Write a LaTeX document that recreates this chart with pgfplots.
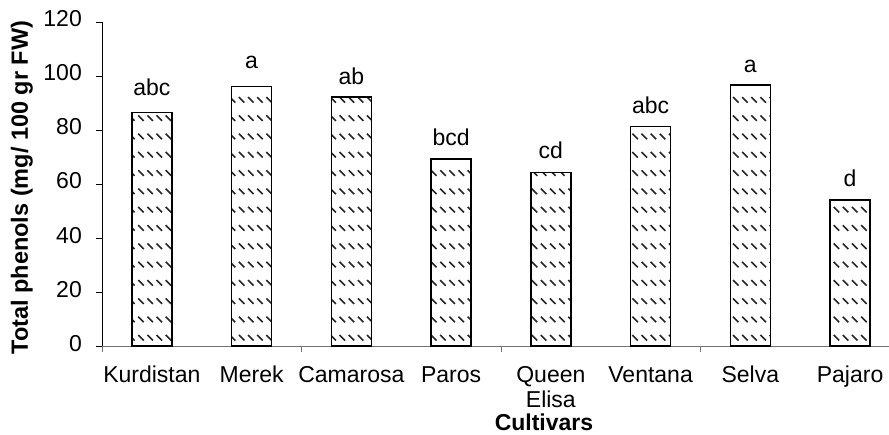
\documentclass[border=0pt]{standalone}
\usepackage{pgfplots}
\pgfplotsset{compat=1.18}
\usepackage{fontspec}
\setmainfont{Liberation Sans}
\usetikzlibrary{patterns}
\pgfdeclarepatternformonly{dashdiag}{\pgfqpoint{-1pt}{-1pt}}{\pgfqpoint{10pt}{19pt}}{\pgfqpoint{9.15pt}{18.3pt}}{%
  \pgfsetlinewidth{1.6pt}%
  \pgfpathmoveto{\pgfqpoint{1pt}{7.5pt}}%
  \pgfpathlineto{\pgfqpoint{6.5pt}{2pt}}%
  \pgfusepath{stroke}%
}
\begin{document}
\begin{tikzpicture}
\begin{axis}[
  at={(0pt,0pt)}, anchor=south west,
  scale only axis,
  width=787pt, height=324pt,
  xmin=-0.5, xmax=7.39,
  ymin=0, ymax=120,
  axis x line*=bottom, axis y line*=left,
  x axis line style={draw=black!55, line width=0.9pt, -},
  y axis line style={draw=black, line width=0.9pt, -},
  tick align=outside,
  ytick={0,20,...,120},
  major tick length=6pt,
  y tick style={draw=black, line width=0.9pt},
  xtick={0,...,7},
  x tick style={draw=none},
  minor xtick={-0.5,1.5,3.5,5.5},
  minor tick length=6pt,
  minor x tick style={draw=black!55, line width=0.9pt},
  xticklabels={Kurdistan,Merek,Camarosa,Paros,{Queen\\Elisa},Ventana,Selva,Pajaro},
  typeset ticklabels with strut,
  font=\fontsize{23}{25}\selectfont,
  /pgf/number format/assume math mode=true,
  xticklabel style={align=center, anchor=north, inner sep=0pt, yshift=-13pt, font=\fontsize{23}{25}\selectfont},
  yticklabel style={anchor=east, inner sep=0pt, xshift=-14pt, font=\fontsize{23}{25}\selectfont},
  xlabel={\bfseries Cultivars},
  xlabel style={at={(axis description cs:0.5616,-0.262)}, anchor=base, inner sep=0pt, font=\fontsize{23}{25}\selectfont},
  ylabel={\bfseries Total phenols (mg/ 100 gr FW)},
  ylabel style={at={(axis description cs:-0.1017,0.489)}, anchor=center, inner sep=0pt, font=\fontsize{23.5}{25}\selectfont},
  clip=false,
]
\addplot[ybar, bar width=0.4, draw=black, line width=1.4pt, pattern=dashdiag, pattern color=black!85]
  coordinates {(0,86.4) (1,96.0) (2,92.2) (3,69.3) (4,64.3) (5,81.3) (6,96.7) (7,54.1)};
\addplot[only marks, mark=none, point meta=explicit symbolic,
  nodes near coords, nodes near coords style={anchor=base, inner sep=0pt, font=\fontsize{23}{25}\selectfont}]
  table[meta=label] {
x y label
0 92.6 abc
1 102.9 a
2 97.0 ab
3 74.4 bcd
4 69.6 cd
5 86.2 abc
6 101.2 a
7 58.9 d
};
\end{axis}
\pgfresetboundingbox
\path (-102pt,-88pt) rectangle (787pt,346pt);
\end{tikzpicture}
\end{document}
